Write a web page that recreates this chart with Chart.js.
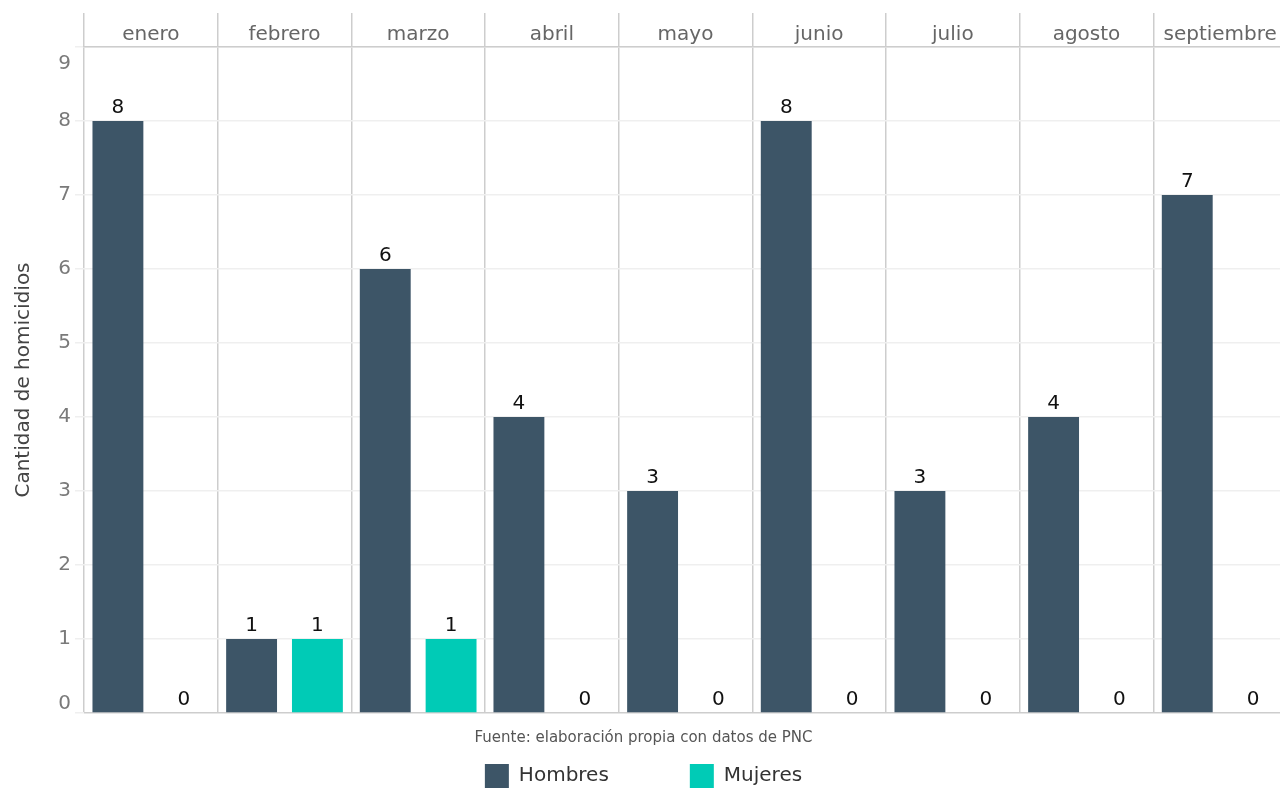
<!DOCTYPE html>
<html lang="es">
<head>
<meta charset="utf-8">
<title>Homicidios por mes y sexo</title>
<script src="https://cdn.jsdelivr.net/npm/chart.js@4.4.1/dist/chart.umd.min.js"></script>
<style>
  html, body { margin: 0; padding: 0; background: #fff; overflow: hidden; }
  #wrap { width: 1290px; height: 788px; }
</style>
</head>
<body>
<div id="wrap"><canvas id="grafico"></canvas></div>
<script>
// datos
const meses = ['enero', 'febrero', 'marzo', 'abril', 'mayo', 'junio', 'julio', 'agosto', 'septiembre'];
const hombres = [8, 1, 6, 4, 3, 8, 3, 4, 7];
const mujeres = [0, 1, 1, 0, 0, 0, 0, 0, 0];
const yMax = 9;

const colorHombres = '#3d5567';
const colorMujeres = '#00cbb6';
const colorBorde = '#cdcdcd';

Chart.defaults.font.family = '"DejaVu Sans", sans-serif';

// etiquetas con el valor encima de cada barra
const etiquetasValor = {
    id: 'etiquetasValor',
    afterDatasetsDraw(chart) {
        const ctx = chart.ctx;
        ctx.save();
        ctx.font = '20px "DejaVu Sans"';
        ctx.fillStyle = '#111';
        ctx.textAlign = 'center';
        ctx.textBaseline = 'alphabetic';
        chart.data.datasets.forEach((ds, i) => {
            chart.getDatasetMeta(i).data.forEach((bar, j) => {
                ctx.fillText(String(ds.data[j]), bar.x, bar.y - 8);
            });
        });
        ctx.restore();
    }
};

// en el original las etiquetas de los extremos del eje y quedan dentro del panel
const ajusteEjeY = {
    id: 'ajusteEjeY',
    beforeDraw(chart) {
        const y = chart.scales.y;
        const items = y.getLabelItems(chart.chartArea);
        items.forEach((it, k) => {
            const v = y.ticks[k] && y.ticks[k].value;
            if (it._ajustado) return;
            if (v === 0) it.options.translation[1] -= 9;
            if (v === yMax) it.options.translation[1] += 17;
            it._ajustado = true;
        });
    }
};

new Chart(document.getElementById('grafico'), {
    type: 'bar',
    data: {
        labels: meses,
        datasets: [{
            label: 'Hombres\u2003\u2003\u2003\u2002\u2002',
            data: hombres,
            backgroundColor: colorHombres,
            categoryPercentage: 0.985,
            barPercentage: 0.773
        }, {
            label: 'Mujeres',
            data: mujeres,
            backgroundColor: colorMujeres,
            categoryPercentage: 0.985,
            barPercentage: 0.773
        }]
    },
    options: {
        responsive: true,
        maintainAspectRatio: false,
        animation: false,
        layout: { padding: { top: 13, right: 3, bottom: 0, left: 0 } },
        scales: {
            x: {
                position: 'top',
                grid: {
                    offset: true,
                    color: colorBorde,
                    lineWidth: 1.5,
                    drawTicks: true,
                    tickLength: 34
                },
                border: { display: true, color: colorBorde, width: 1.5 },
                ticks: {
                    font: { size: 20 },
                    color: '#666',
                    padding: -34,
                    maxRotation: 0
                },
                afterFit(scale) { scale.height = 34; }
            },
            y: {
                min: 0,
                max: yMax,
                ticks: { stepSize: 1, font: { size: 20 }, color: '#7a7a7a', padding: 4 },
                grid: {
                    color: (c) => c.tick && c.tick.value === 0 ? colorBorde : '#efefef',
                    tickColor: '#efefef',
                    lineWidth: 1.5,
                    tickLength: 9
                },
                border: { display: false },
                title: {
                    display: true,
                    text: 'Cantidad de homicidios',
                    font: { size: 20 },
                    color: '#444',
                    padding: { top: 12, bottom: 0 }
                },
                afterFit(scale) { scale.width = 84; }
            }
        },
        plugins: {
            title: {
                display: true,
                position: 'bottom',
                weight: 500,
                text: 'Fuente: elaboración propia con datos de PNC',
                font: { size: 15, weight: 'normal' },
                color: '#555',
                padding: { top: 16, bottom: 16 }
            },
            legend: {
                position: 'bottom',
                maxHeight: 25,
                labels: {
                    boxWidth: 24,
                    boxHeight: 24,
                    padding: 1,
                    font: { size: 20 },
                    color: '#333'
                }
            },
            tooltip: { enabled: false }
        }
    },
    plugins: [etiquetasValor, ajusteEjeY]
});
</script>
</body>
</html>
